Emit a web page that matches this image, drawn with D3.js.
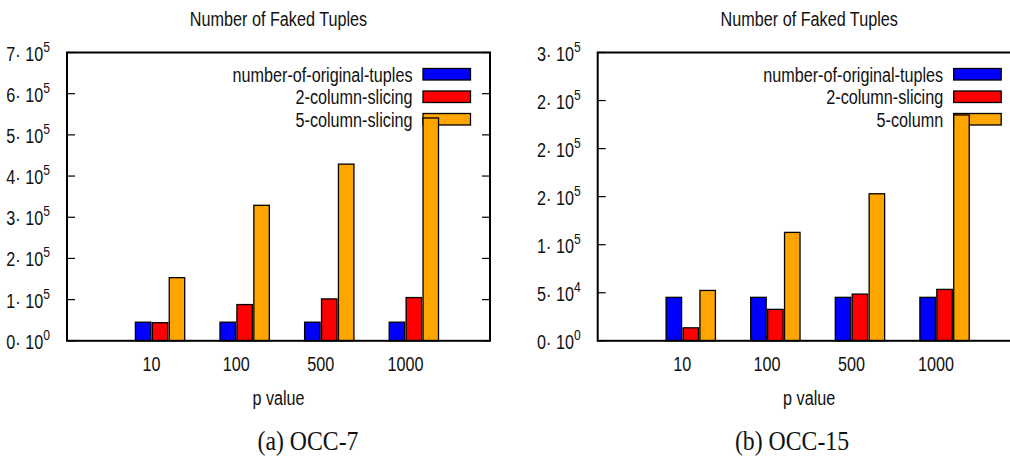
<!DOCTYPE html>
<html>
<head>
<meta charset="utf-8">
<script src="https://cdn.jsdelivr.net/npm/d3@7"></script>
<style>
  body { margin: 0; background: #fff; }
  svg { display: block; }
  text { font-family: "Liberation Sans", Arial, sans-serif; fill: #111; }
</style>
</head>
<body>
<script>
// data
const categories = ["10", "100", "500", "1000"];
const seriesColors = ["#0000ff", "#ff0000", "#ffa500"];

const occ7Original = [45222, 45222, 45222, 45222];
const occ7TwoCol = [44000, 88000, 101700, 105000];
const occ7FiveCol = [153300, 329000, 429000, 541000];
const occ7Legend = ["number-of-original-tuples", "2-column-slicing", "5-column-slicing"];
const occ7TickValues = [0, 1e5, 2e5, 3e5, 4e5, 5e5, 6e5, 7e5];
const occ7TickMant = ["0", "1", "2", "3", "4", "5", "6", "7"];
const occ7TickExp = ["0", "5", "5", "5", "5", "5", "5", "5"];

const occ15Original = [45222, 45222, 45222, 45222];
const occ15TwoCol = [13500, 32700, 48600, 53500];
const occ15FiveCol = [52400, 112800, 153000, 235000];
const occ15Legend = ["number-of-original-tuples", "2-column-slicing", "5-column"];
const occ15TickValues = [0, 5e4, 1e5, 1.5e5, 2e5, 2.5e5, 3e5];
const occ15TickMant = ["0", "5", "1", "2", "2", "2", "3"];
const occ15TickExp = ["0", "4", "5", "5", "5", "5", "5"];

const W = 1010, H = 463;
const svg = d3.select("body").append("svg")
    .attr("width", W)
    .attr("height", H);

// the figure is stretched vertically, so text is squeezed sideways
const squeeze = 0.81;
function label(parent, x, y, str, anchor, size, sq) {
  const g = parent.append("g")
      .attr("transform", "translate(" + x + "," + y + ") scale(" + (sq || squeeze) + ",1)");
  return g.append("text")
      .attr("text-anchor", anchor || "middle")
      .attr("font-size", size || 20)
      .text(str);
}

function drawPanel(opts) {
  const left = opts.left, top = 52.5, plotW = 423, plotH = 288.3;
  const g = svg.append("g").attr("transform", "translate(" + left + "," + top + ")");

  const x = d3.scaleLinear().domain([0, 5]).range([0, plotW]);
  const y = d3.scaleLinear().domain([0, opts.yMax]).range([plotH, 0]);

  // title and axis label
  label(svg, left + plotW / 2, 26, "Number of Faked Tuples");
  label(svg, left + plotW / 2, 405, "p value");

  // y ticks, inward on both sides
  g.selectAll(".ytick-l")
    .data(opts.ticks)
    .enter().append("line")
      .attr("x1", 0).attr("x2", 8)
      .attr("y1", d => y(d)).attr("y2", d => y(d))
      .attr("stroke", "#000").attr("stroke-width", 1.2);
  g.selectAll(".ytick-r")
    .data(opts.ticks)
    .enter().append("line")
      .attr("x1", plotW).attr("x2", plotW - 8)
      .attr("y1", d => y(d)).attr("y2", d => y(d))
      .attr("stroke", "#000").attr("stroke-width", 1.2);

  // y tick labels like "7· 10^5"
  opts.ticks.forEach((v, i) => {
    const t = label(g, -17, y(v) + 8, "", "end");
    t.append("tspan").text(opts.mant[i] + "· 10");
    t.append("tspan").attr("dy", -9).attr("font-size", 15).text(opts.exp[i]);
  });

  // x labels
  categories.forEach((c, i) => {
    label(g, x(i + 1), plotH + 30, c);
  });

  // legend (drawn before bars so the tall bar covers it)
  const legend = g.append("g");
  opts.legend.forEach((name, i) => {
    const ly = 16 + i * 22.5;
    legend.append("rect")
      .attr("x", plotW - 67)
      .attr("y", ly)
      .attr("width", 47.5)
      .attr("height", 11.5)
      .attr("fill", seriesColors[i])
      .attr("stroke", "#000")
      .attr("stroke-width", 1.3);
    label(legend, plotW - 77.5, ly + 13, name, "end");
  });

  // bars
  const data = categories.map((c, i) => ({ idx: i + 1, values: opts.series.map(s => s[i]) }));
  const bw = x(0.183) - x(0);
  const groups = g.selectAll(".grp")
    .data(data)
    .enter().append("g");
  groups.selectAll("rect")
    .data(d => d.values.map((v, k) => ({ idx: d.idx, k: k, v: v })))
    .enter().append("rect")
      .attr("x", d => x(d.idx - 0.1 + 0.2 * d.k) - bw / 2)
      .attr("y", d => y(d.v))
      .attr("width", bw)
      .attr("height", d => plotH - y(d.v))
      .attr("fill", d => seriesColors[d.k])
      .attr("stroke", "#000")
      .attr("stroke-width", 1.3);

  // frame
  g.append("rect")
    .attr("x", 0).attr("y", 0)
    .attr("width", plotW).attr("height", plotH)
    .attr("fill", "none")
    .attr("stroke", "#000")
    .attr("stroke-width", 2);
}

drawPanel({
  left: 67,
  yMax: 7e5,
  ticks: occ7TickValues,
  mant: occ7TickMant,
  exp: occ7TickExp,
  legend: occ7Legend,
  series: [occ7Original, occ7TwoCol, occ7FiveCol]
});

drawPanel({
  left: 597.7,
  yMax: 3e5,
  ticks: occ15TickValues,
  mant: occ15TickMant,
  exp: occ15TickExp,
  legend: occ15Legend,
  series: [occ15Original, occ15TwoCol, occ15FiveCol]
});

// captions under each panel
[["(a) OCC-7", 308], ["(b) OCC-15", 792]].forEach(c => {
  label(svg, c[1], 450, c[0], "middle", 27, 0.88)
    .style("font-family", "'Liberation Serif', 'Times New Roman', serif");
});
</script>
</body>
</html>
